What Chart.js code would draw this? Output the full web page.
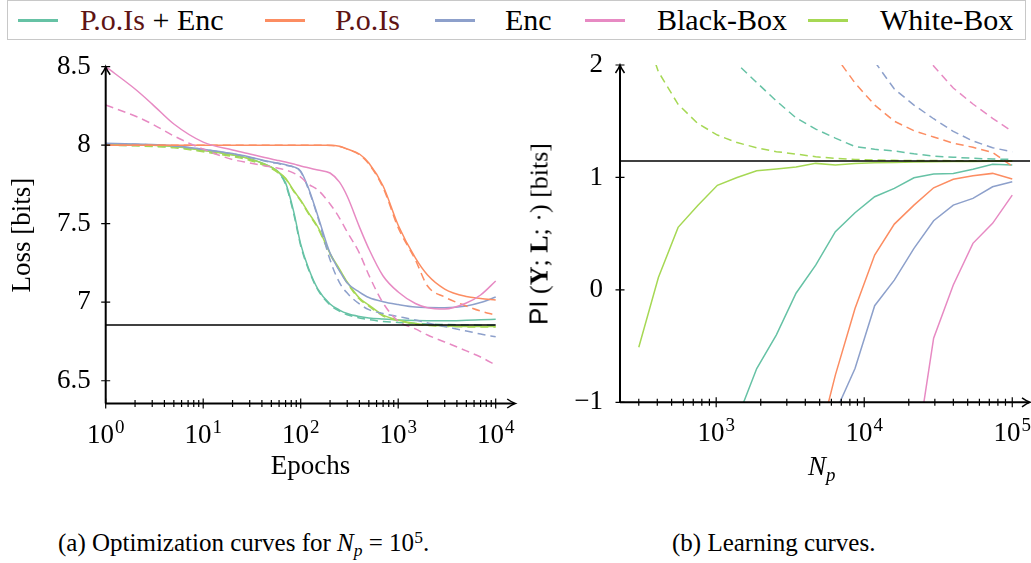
<!DOCTYPE html>
<html>
<head>
<meta charset="utf-8">
<script src="https://cdn.jsdelivr.net/npm/chart.js@4.4.1/dist/chart.umd.min.js"></script>
<style>
  body { margin: 0; width: 1031px; height: 563px; background: #fff; position: relative; overflow: hidden; font-family: 'Liberation Serif', serif; color: #000; }
  #legendBox { position: absolute; left: 7px; top: 0; width: 1019px; height: 40px; border: 1px solid #c8c8c8; box-sizing: border-box; }
  .ln { position: absolute; top: 19px; width: 40px; height: 2.5px; }
  .lt { position: absolute; top: 5px; font-size: 30px; line-height: 30px; white-space: nowrap; }
  .maroon { color: #5e1414; }
  .wrap { position: absolute; top: 0; height: 490px; }
  .cap { position: absolute; top: 530px; font-size: 25px; line-height: 25px; white-space: nowrap; }
  .sub { font-size: 70%; position: relative; top: 0.3em; }
  .sup { font-size: 70%; position: relative; top: -0.45em; }
  #npTitle { position: absolute; left: 808px; top: 453px; font-size: 27px; line-height: 27px; font-style: italic; white-space: nowrap; }
  #piTitle { position: absolute; left: 539px; top: 234px; transform: translate(-50%, -50%) rotate(-90deg); font-size: 26px; line-height: 26px; white-space: nowrap; }
</style>
</head>
<body>
<div id="legendBox"></div>
<div class="ln" style="left:18px;background:#66c2a5"></div>
<div class="lt" style="left:80px"><span class="maroon">P.o.Is</span> + Enc</div>
<div class="ln" style="left:265px;background:#fc8d62"></div>
<div class="lt" style="left:335px"><span class="maroon">P.o.Is</span></div>
<div class="ln" style="left:435px;background:#8da0cb"></div>
<div class="lt" style="left:505px">Enc</div>
<div class="ln" style="left:585px;background:#e78ac3"></div>
<div class="lt" style="left:657px">Black-Box</div>
<div class="ln" style="left:808px;background:#a6d854"></div>
<div class="lt" style="left:880px">White-Box</div>

<div class="wrap" style="left:0;width:525px"><canvas id="lossChart" width="525" height="490"></canvas></div>
<div class="wrap" style="left:520px;width:511px"><canvas id="piChart" width="511" height="490"></canvas></div>

<div id="piTitle"><span style="font-family:'Liberation Sans',sans-serif">PI</span> (<b>Y</b>; <b>L</b>; ·) [bits]</div>
<div id="npTitle">N<span class="sub">p</span></div>

<div class="cap" style="left:58px">(a) Optimization curves for <i>N</i><span class="sub"><i>p</i></span> = 10<span class="sup">5</span>.</div>
<div class="cap" style="left:672px">(b) Learning curves.</div>

<script>
// ---- (a) optimization curves, N_p = 1e5 ----
const epochs = [1, 2, 3, 5, 10, 20, 30, 50, 60, 70, 85, 100, 120, 150, 200, 250, 300, 400, 500, 700, 1000, 1500, 2000, 3000, 5000, 7000, 10000];

const lossPoisEnc     = [8.005, 8.003, 8.0, 7.993, 7.968, 7.939, 7.914, 7.86, 7.825, 7.76, 7.574, 7.37, 7.218, 7.084, 6.989, 6.95, 6.928, 6.909, 6.9, 6.893, 6.887, 6.883, 6.882, 6.882, 6.885, 6.888, 6.891];
const lossPoisEncDash = [8.0, 7.998, 7.995, 7.988, 7.963, 7.934, 7.909, 7.855, 7.82, 7.75, 7.56, 7.36, 7.21, 7.078, 6.983, 6.943, 6.92, 6.9, 6.889, 6.877, 6.871, 6.865, 6.861, 6.858, 6.855, 6.854, 6.853];
const lossPois        = [8.0, 8.0, 8.0, 8.0, 8.0, 8.0, 8.0, 8.0, 8.0, 8.0, 8.0, 8.0, 8.0, 8.0, 8.0, 7.993, 7.976, 7.944, 7.887, 7.74, 7.49, 7.282, 7.173, 7.084, 7.036, 7.024, 7.014];
const lossPoisDash    = [8.0, 8.0, 8.0, 8.0, 8.0, 8.0, 8.0, 8.0, 8.0, 8.0, 8.0, 8.0, 8.0, 8.0, 7.998, 7.992, 7.975, 7.94, 7.88, 7.73, 7.475, 7.27, 7.103, 7.033, 6.976, 6.944, 6.918];
const lossEnc         = [8.012, 8.008, 8.004, 7.997, 7.975, 7.947, 7.925, 7.893, 7.885, 7.875, 7.862, 7.835, 7.727, 7.549, 7.313, 7.2, 7.122, 7.065, 7.03, 7.003, 6.985, 6.969, 6.966, 6.965, 6.976, 6.998, 7.033];
const lossEncDash     = [8.01, 8.006, 8.002, 7.995, 7.973, 7.945, 7.922, 7.89, 7.882, 7.872, 7.86, 7.83, 7.72, 7.54, 7.27, 7.125, 7.058, 6.989, 6.953, 6.928, 6.909, 6.887, 6.868, 6.845, 6.817, 6.797, 6.78];
const lossBlack       = [8.5, 8.358, 8.262, 8.135, 8.02, 7.97, 7.944, 7.912, 7.902, 7.893, 7.88, 7.868, 7.856, 7.842, 7.823, 7.765, 7.675, 7.48, 7.34, 7.167, 7.065, 6.992, 6.965, 6.957, 6.995, 7.046, 7.135];
const lossBlackDash   = [8.256, 8.186, 8.135, 8.059, 7.975, 7.909, 7.887, 7.861, 7.852, 7.842, 7.822, 7.797, 7.752, 7.715, 7.626, 7.536, 7.447, 7.313, 7.173, 6.995, 6.88, 6.83, 6.791, 6.747, 6.69, 6.651, 6.6];
const lossWhite       = [8.005, 8.002, 7.999, 7.992, 7.967, 7.938, 7.913, 7.86, 7.826, 7.79, 7.71, 7.65, 7.571, 7.479, 7.311, 7.211, 7.129, 7.027, 6.982, 6.918, 6.887, 6.864, 6.855, 6.848, 6.845, 6.845, 6.845];
const lossWhiteDash   = [8.0, 7.996, 7.992, 7.984, 7.958, 7.928, 7.903, 7.852, 7.82, 7.785, 7.705, 7.645, 7.565, 7.472, 7.305, 7.205, 7.122, 7.02, 6.975, 6.912, 6.882, 6.86, 6.852, 6.846, 6.843, 6.843, 6.843];
const lossFloor = 6.855;

const epochTicks = [1, 2, 3, 4, 5, 6, 7, 8, 9, 10, 20, 30, 40, 50, 60, 70, 80, 90, 100, 200, 300, 400, 500, 600, 700, 800, 900,
  1000, 2000, 3000, 4000, 5000, 6000, 7000, 8000, 9000, 10000];
const lossTicks = [6.5, 7, 7.5, 8, 8.5];

// ---- (b) learning curves ----
const npSizes = [300, 407, 553, 751, 1019, 1384, 1879, 2551, 3463, 4702, 6383, 8666, 11765, 15972, 21684, 29438, 39965, 54256, 73658, 100000];

const piWhite       = [-0.51, 0.11, 0.556, 0.75, 0.93, 1.0, 1.06, 1.075, 1.092, 1.125, 1.11, 1.125, 1.13, 1.133, 1.137, 1.14, 1.141, 1.142, 1.143, 1.144];
const piWhiteDash   = [2.45, 1.94, 1.65, 1.48, 1.377, 1.31, 1.264, 1.229, 1.208, 1.184, 1.17, 1.16, 1.155, 1.152, 1.15, 1.15, 1.149, 1.149, 1.148, 1.148];
const piPoisEnc     = [null, null, null, null, null, -1.15, -0.70, -0.40, -0.03, 0.22, 0.517, 0.686, 0.828, 0.903, 0.997, 1.03, 1.036, 1.072, 1.117, 1.11];
const piPoisEncDash = [null, null, null, null, 2.25, 2.01, 1.844, 1.68, 1.53, 1.43, 1.35, 1.275, 1.25, 1.235, 1.21, 1.19, 1.18, 1.17, 1.164, 1.16];
const piPois        = [null, null, null, null, null, null, null, null, null, -1.45, -0.758, -0.165, 0.31, 0.585, 0.754, 0.908, 0.983, 1.015, 1.036, 0.986];
const piPoisDash    = [null, null, null, null, null, null, null, null, null, 2.4, 2.08, 1.84, 1.644, 1.5, 1.415, 1.36, 1.305, 1.268, 1.222, 1.1];
const piEnc         = [null, null, null, null, null, null, null, null, null, null, -1.09, -0.70, -0.141, 0.087, 0.369, 0.615, 0.754, 0.814, 0.917, 0.962];
const piEncDash     = [null, null, null, null, null, null, null, null, null, null, null, null, 2.03, 1.786, 1.644, 1.522, 1.41, 1.324, 1.264, 1.229];
const piBlack       = [null, null, null, null, null, null, null, null, null, null, null, null, null, null, -1.58, -0.43, 0.043, 0.414, 0.592, 0.843];
const piBlackDash   = [null, null, null, null, null, null, null, null, null, null, null, null, null, null, 2.3, 1.99, 1.795, 1.653, 1.526, 1.41];
const piFloor = 1.146;

const npTicks = [300, 400, 500, 600, 700, 800, 900, 1000, 2000, 3000, 4000, 5000, 6000, 7000, 8000, 9000,
  10000, 20000, 30000, 40000, 50000, 60000, 70000, 80000, 90000, 100000];
const piTicks = [-1, 0, 1, 2];
const npMin = 224, npMax = 131800;

const C = { poisEnc: '#66c2a5', pois: '#fc8d62', enc: '#8da0cb', black: '#e78ac3', white: '#a6d854' };
const SERIF = "'Liberation Serif', serif";

function line(xs, ys, color, dashed, smooth) {
  return {
    data: xs.map((x, i) => ({ x: x, y: ys[i] })),
    borderColor: color,
    borderWidth: 1.5,
    borderDash: dashed ? [8, 5] : [],
    pointRadius: 0,
    fill: false,
    cubicInterpolationMode: smooth ? 'monotone' : 'default',
    tension: 0
  };
}

function flat(x0, x1, y) {
  return { data: [{ x: x0, y: y }, { x: x1, y: y }], borderColor: '#000', borderWidth: 1.4, pointRadius: 0, fill: false };
}

// axes with arrows, ticks across the axis line and 10^k labels
function axesPlugin() {
  return {
    id: 'axes',
    afterDatasetsDraw(chart) {
      const ctx = chart.ctx, a = chart.chartArea;
      const xs = chart.scales.x, ys = chart.scales.y;
      ctx.save();
      ctx.strokeStyle = '#000';
      ctx.lineWidth = 2;
      ctx.beginPath();
      ctx.moveTo(a.left, a.bottom); ctx.lineTo(a.right - 1, a.bottom);
      ctx.moveTo(a.left, a.bottom); ctx.lineTo(a.left, a.top + 1);
      ctx.stroke();

      ctx.lineWidth = 1.5;
      ctx.beginPath();
      ctx.moveTo(a.right - 8, a.bottom - 4.5);
      ctx.quadraticCurveTo(a.right - 3, a.bottom - 1, a.right, a.bottom);
      ctx.quadraticCurveTo(a.right - 3, a.bottom + 1, a.right - 8, a.bottom + 4.5);
      ctx.moveTo(a.left - 4.5, a.top + 8);
      ctx.quadraticCurveTo(a.left - 1, a.top + 3, a.left, a.top);
      ctx.quadraticCurveTo(a.left + 1, a.top + 3, a.left + 4.5, a.top + 8);
      ctx.stroke();

      ctx.lineWidth = 1.2;
      ctx.beginPath();
      xs.ticks.forEach(t => {
        const px = xs.getPixelForValue(t.value);
        const e = Math.log10(t.value);
        const h = Math.abs(e - Math.round(e)) < 1e-9 ? 5 : 3.5;
        ctx.moveTo(px, a.bottom - h); ctx.lineTo(px, a.bottom + h);
      });
      ys.ticks.forEach(t => {
        const py = ys.getPixelForValue(t.value);
        ctx.moveTo(a.left - 4.5, py); ctx.lineTo(a.left + 4.5, py);
      });
      ctx.stroke();

      ctx.fillStyle = '#000';
      ctx.textBaseline = 'alphabetic';
      xs.ticks.forEach(t => {
        const e = Math.log10(t.value);
        if (Math.abs(e - Math.round(e)) > 1e-9) return;
        const px = xs.getPixelForValue(t.value);
        const exp = String(Math.round(e));
        ctx.font = "27px " + SERIF;
        const wb = ctx.measureText('10').width;
        ctx.font = "19px " + SERIF;
        const we = ctx.measureText(exp).width;
        const x0 = px - (wb + we + 1) / 2;
        ctx.font = "27px " + SERIF;
        ctx.fillText('10', x0, a.bottom + 39);
        ctx.font = "19px " + SERIF;
        ctx.fillText(exp, x0 + wb + 1, a.bottom + 29);
      });
      ctx.restore();
    }
  };
}

function fixedTicks(list) {
  return function (scale) { scale.ticks = list.map(v => ({ value: v })); };
}

new Chart(document.getElementById('lossChart'), {
  type: 'line',
  data: {
    datasets: [
      flat(1, 10000, lossFloor),
      line(epochs, lossBlackDash, C.black, true, true),
      line(epochs, lossBlack, C.black, false, true),
      line(epochs, lossPoisDash, C.pois, true, true),
      line(epochs, lossPois, C.pois, false, true),
      line(epochs, lossEncDash, C.enc, true, true),
      line(epochs, lossEnc, C.enc, false, true),
      line(epochs, lossWhiteDash, C.white, true, true),
      line(epochs, lossWhite, C.white, false, true),
      line(epochs, lossPoisEncDash, C.poisEnc, true, true),
      line(epochs, lossPoisEnc, C.poisEnc, false, true)
    ]
  },
  options: {
    responsive: false,
    animation: false,
    devicePixelRatio: 1,
    events: [],
    layout: { padding: { left: 0, top: 66.7, right: 9.8, bottom: 6.8 } },
    plugins: { legend: { display: false }, tooltip: { enabled: false } },
    scales: {
      x: {
        type: 'logarithmic', min: 1, max: Math.pow(10, 4.2),
        grid: { display: false, drawTicks: false }, border: { display: false },
        ticks: { display: false },
        afterBuildTicks: fixedTicks(epochTicks),
        afterFit: s => { s.height = 79.7; },
        title: { display: true, text: 'Epochs', color: '#000', font: { family: SERIF, size: 27 }, padding: { top: 0, bottom: 0 } }
      },
      y: {
        min: 6.355, max: 8.5,
        grid: { display: false, drawTicks: false }, border: { display: false },
        ticks: { color: '#000', font: { family: SERIF, size: 27 }, padding: 15, autoSkip: false, callback: v => String(v) },
        afterBuildTicks: fixedTicks(lossTicks),
        afterFit: s => { s.width = 105.7; },
        title: { display: true, text: 'Loss [bits]', color: '#000', font: { family: SERIF, size: 27 }, padding: { top: 7, bottom: 0 } }
      }
    }
  },
  plugins: [axesPlugin()]
});

new Chart(document.getElementById('piChart'), {
  type: 'line',
  data: {
    datasets: [
      flat(npMin, npMax, piFloor),
      line(npSizes, piBlackDash, C.black, true, false),
      line(npSizes, piBlack, C.black, false, false),
      line(npSizes, piEncDash, C.enc, true, false),
      line(npSizes, piEnc, C.enc, false, false),
      line(npSizes, piPoisDash, C.pois, true, false),
      line(npSizes, piPois, C.pois, false, false),
      line(npSizes, piPoisEncDash, C.poisEnc, true, false),
      line(npSizes, piPoisEnc, C.poisEnc, false, false),
      line(npSizes, piWhiteDash, C.white, true, false),
      line(npSizes, piWhite, C.white, false, false)
    ]
  },
  options: {
    responsive: false,
    animation: false,
    devicePixelRatio: 1,
    events: [],
    layout: { padding: { left: 0, top: 65, right: 1, bottom: 7.7 } },
    plugins: { legend: { display: false }, tooltip: { enabled: false } },
    scales: {
      x: {
        type: 'logarithmic', min: npMin, max: npMax,
        grid: { display: false, drawTicks: false }, border: { display: false },
        ticks: { display: false },
        afterBuildTicks: fixedTicks(npTicks),
        afterFit: s => { s.height = 80; }
      },
      y: {
        min: -1, max: 2,
        grid: { display: false, drawTicks: false }, border: { display: false },
        ticks: { color: '#000', font: { family: SERIF, size: 27 }, padding: 17, autoSkip: false,
          callback: v => (v < 0 ? '\u2212' + Math.abs(v) : String(v)) },
        afterBuildTicks: fixedTicks(piTicks),
        afterFit: s => { s.width = 100; }
      }
    }
  },
  plugins: [axesPlugin()]
});
</script>
</body>
</html>
